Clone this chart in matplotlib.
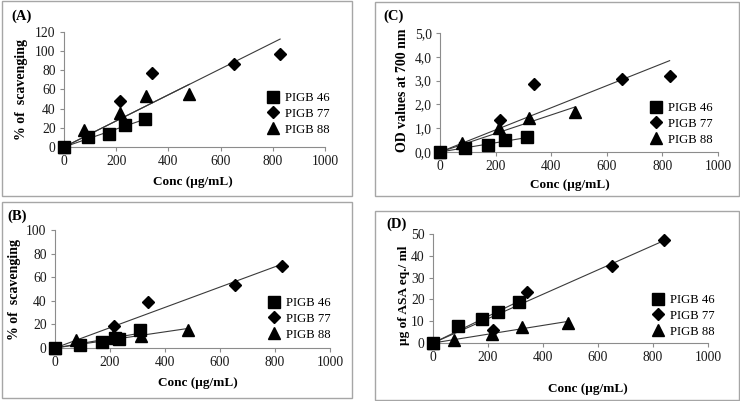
import numpy as np
import matplotlib
matplotlib.use("Agg")
import matplotlib.pyplot as plt
from matplotlib.patches import Rectangle
from matplotlib.ticker import FuncFormatter

plt.rcParams['font.family'] = ['Liberation Serif', 'DejaVu Serif']

W, H = 740, 401

# ---------------- data ----------------
series_names = ["PIGB 46", "PIGB 77", "PIGB 88"]

# Panel A : DPPH % scavenging
a_x46 = [0, 93, 173, 235, 309]
a_y46 = [0, 10.5, 14, 22.7, 29]
a_x77 = [0, 216, 337, 653, 828]
a_y77 = [0, 48, 77, 86.4, 97]
a_x88 = [0, 75, 213, 315, 480]
a_y88 = [0, 17.5, 35, 53, 55]

# Panel B : % scavenging
b_x46 = [0, 92, 171, 218, 233, 310]
b_y46 = [0, 2.2, 4.8, 8.5, 8.0, 15.5]
b_x77 = [0, 214, 339, 654, 826]
b_y77 = [0, 19, 38.6, 53.5, 69.3]
b_x88 = [0, 77, 211, 311, 482]
b_y88 = [0, 6.5, 9.8, 10.3, 15]

# Panel C : OD values at 700 nm
c_x46 = [0, 91, 173, 235, 312]
c_y46 = [0, 0.15, 0.28, 0.49, 0.62]
c_x77 = [0, 216, 339, 654, 826]
c_y77 = [0, 1.34, 2.86, 3.08, 3.19]
c_x88 = [0, 80, 213, 319, 485]
c_y88 = [0, 0.36, 1.02, 1.42, 1.68]

# Panel D : ug of ASA eq./ml
d_x46 = [0, 92, 177, 237, 314]
d_y46 = [0, 8, 11, 14.1, 18.8]
d_x77 = [0, 217, 340, 651, 839]
d_y77 = [0, 6.1, 23.4, 35.5, 47.4]
d_x88 = [0, 77, 215, 322, 490]
d_y88 = [0, 1.6, 4.2, 7.5, 9.3]

x_ticks = [0, 200, 400, 600, 800, 1000]
a_yticks = [0, 20, 40, 60, 80, 100, 120]
b_yticks = [0, 20, 40, 60, 80, 100]
c_yticks = [0, 1, 2, 3, 4, 5]
d_yticks = [0, 10, 20, 30, 40, 50]

x_label = "Conc (µg/mL)"

fig = plt.figure(figsize=(W / 100, H / 100), dpi=100)


def fig_rect(x0, y0, x1, y1):
    return [x0 / W, 1 - y1 / H, (x1 - x0) / W, (y1 - y0) / H]


def box(x0, y0, x1, y1):
    fig.patches.append(Rectangle((x0 / W, 1 - y1 / H), (x1 - x0) / W, (y1 - y0) / H,
                                 transform=fig.transFigure, fill=False,
                                 edgecolor='#a6a6a6', linewidth=1.0))


markers = ['s', 'D', '^']
msizes = [8.5, 6.5, 9]


def panel(rect, data, yticks, ylabel, ylab_pos, xlab_pos, tag, tag_pos, leg_pos,
          comma=False, ylabel_size=10):
    ax = fig.add_axes(fig_rect(*rect))
    for (xs, ys), m, ms in zip(data, markers, msizes):
        xs = np.asarray(xs, float)
        ys = np.asarray(ys, float)
        slope = np.sum(xs * ys) / np.sum(xs * xs)
        xx = np.array([0, xs.max()])
        ax.plot(xx, slope * xx, color='#3a3a3a', lw=0.8, zorder=2)
    for (xs, ys), m, ms, name in zip(data, markers, msizes, series_names):
        ax.plot(xs, ys, linestyle='none', marker=m, ms=ms, color='black',
                label=name, zorder=3, clip_on=False)
    ax.set_xlim(0, 1000)
    ax.set_ylim(yticks[0], yticks[-1])
    ax.set_xticks(x_ticks)
    ax.set_yticks(yticks)
    if comma:
        ax.yaxis.set_major_formatter(FuncFormatter(lambda v, p: f"{v:.1f}".replace('.', ',')))
    for s in ['top', 'right']:
        ax.spines[s].set_visible(False)
    for s in ['left', 'bottom']:
        ax.spines[s].set_color('#8c8c8c')
        ax.spines[s].set_linewidth(0.8)
    ax.tick_params(axis='both', colors='#8c8c8c', labelcolor='#1a1a1a',
                   labelsize=9.8, length=3, width=0.8, pad=3)
    ax.patch.set_alpha(0)
    fig.text(ylab_pos[0] / W, 1 - ylab_pos[1] / H, ylabel, rotation=90,
             ha='center', va='center', fontsize=ylabel_size, fontweight='bold')
    fig.text(xlab_pos[0] / W, 1 - xlab_pos[1] / H, x_label,
             ha='center', va='center', fontsize=9.5, fontweight='bold')
    fig.text(tag_pos[0] / W, 1 - tag_pos[1] / H, tag,
             ha='left', va='center', fontsize=10.5, fontweight='bold')
    ax.legend(loc='upper left', bbox_to_anchor=(leg_pos[0] / W, 1 - leg_pos[1] / H),
              bbox_transform=fig.transFigure, frameon=False, fontsize=9.2,
              handlelength=1.0, handletextpad=0.4, labelspacing=0.3,
              borderpad=0, borderaxespad=0)
    return ax


box(2, 1, 352, 196)
box(375, 2, 739, 196)
box(2, 202, 352, 398)
box(375, 211, 739, 400)

panel((64, 32, 325, 147), [(a_x46, a_y46), (a_x77, a_y77), (a_x88, a_y88)],
      a_yticks, "% of  scavenging", (22, 90), (193, 182), "(A)", (11, 16), (267, 92))
panel((440, 33, 718, 152), [(c_x46, c_y46), (c_x77, c_y77), (c_x88, c_y88)],
      c_yticks, "OD values at 700 nm", (402, 90), (570, 185), "(C)", (383, 16), (650, 102),
      comma=True)
panel((55, 230, 330, 348), [(b_x46, b_y46), (b_x77, b_y77), (b_x88, b_y88)],
      b_yticks, "% of  scavenging", (15, 290), (198, 383), "(B)", (7, 216), (268, 297))
panel((433, 234, 708, 343), [(d_x46, d_y46), (d_x77, d_y77), (d_x88, d_y88)],
      d_yticks, "µg of ASA eq./ ml", (404, 295), (588, 389), "(D)", (386, 224), (652, 294),
      ylabel_size=9.6)

fig.savefig("out.png", dpi=100)
